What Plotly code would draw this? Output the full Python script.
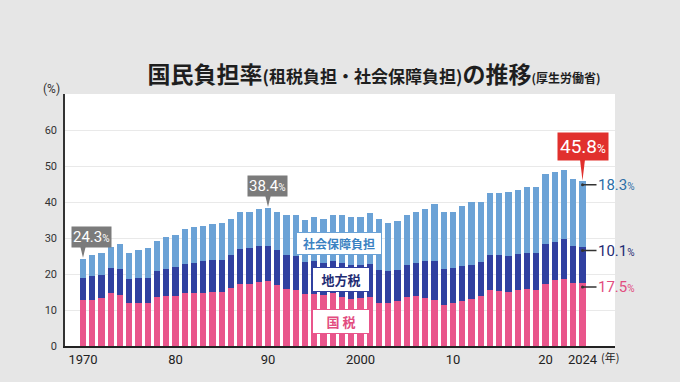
import plotly.graph_objects as go

years = list(range(1970, 2025))
national_tax = [12.7, 12.8, 13.3, 14.7, 14.2, 11.9, 12.0, 11.9, 13.5, 13.9,
                13.9, 14.6, 14.6, 14.8, 15.0, 15.0, 16.0, 17.1, 17.2, 17.8,
                18.1, 16.9, 15.7, 15.5, 14.5, 14.5, 14.2, 14.6, 13.6, 13.0,
                13.4, 13.5, 11.9, 11.9, 12.5, 13.5, 13.9, 13.4, 12.7, 11.4,
                11.9, 12.5, 13.1, 13.8, 15.5, 15.3, 15.0, 15.6, 15.9, 15.5,
                17.3, 18.2, 18.6, 17.6, 17.5]
local_tax = [6.2, 6.6, 6.5, 7.0, 7.3, 6.6, 6.9, 7.1, 7.2, 7.5,
             8.0, 8.1, 8.5, 8.7, 8.9, 8.9, 9.2, 9.8, 10.0, 10.0,
             9.6, 9.7, 9.5, 9.5, 8.8, 9.2, 8.8, 9.0, 9.5, 9.4,
             9.2, 9.2, 9.2, 8.8, 8.6, 9.1, 9.2, 10.2, 10.8, 10.1,
             9.7, 9.7, 9.5, 9.4, 9.8, 10.1, 10.1, 10.0, 10.0, 10.2,
             11.0, 10.8, 11.1, 10.3, 10.1]
social_security = [5.4, 5.8, 5.9, 5.7, 6.9, 7.3, 7.8, 8.2, 8.6, 8.8,
                   8.8, 9.7, 9.9, 9.7, 10.0, 10.2, 10.2, 10.2, 9.9, 10.2,
                   10.7, 10.6, 11.1, 11.3, 11.7, 12.1, 12.4, 12.7, 13.2, 13.3,
                   13.1, 14.2, 14.1, 13.6, 13.5, 13.8, 14.0, 14.5, 16.0, 15.8,
                   15.7, 16.7, 17.5, 16.9, 17.3, 17.2, 17.7, 17.7, 18.4, 18.6,
                   19.6, 19.3, 19.2, 18.5, 18.3]

series_names = ["国税", "地方税", "社会保障負担"]
series_labels = ["国 税", "地方税", "社会保障負担"]
tick_years = [1970, 1980, 1990, 2000, 2010, 2020, 2024]
tick_labels = ["1970", "80", "90", "2000", "10", "20", "2024"]
y_ticks = [0, 10, 20, 30, 40, 50, 60]
callout_years = [1970, 1990, 2024]
callout_texts = ["24.3", "38.4", "45.8"]
end_labels = ["17.5", "10.1", "18.3"]

PINK = "#e9558b"
NAVY = "#3040a0"
LIGHT = "#6ba2d6"
colors = [PINK, NAVY, LIGHT]
text_colors = ["#e24d80", "#1f2c73", "#2d6ea6"]

totals = [a + b + c for a, b, c in zip(national_tax, local_tax, social_security)]

fig = go.Figure()
for name, vals, col in zip(series_names, [national_tax, local_tax, social_security], colors):
    fig.add_trace(go.Bar(x=years, y=vals, name=name, marker=dict(color=col, line=dict(width=0)),
                         width=0.68, showlegend=False, hoverinfo="skip"))

ann = []
NUMF = "Roboto"
box_cfg = [  # xshift, yshift, bg, fontsize, stem height (data units), half width
    (8.5, 22, "#7b7b7b", 15, 3.6, 0.32),
    (-1, 22, "#7b7b7b", 15, 3.6, 0.32),
    (0, 35, "#e1302d", 19, 6.6, 0.3),
]
for yr, txt, cfg in zip(callout_years, callout_texts, box_cfg):
    xs, ys, bg, fs, stem, hw = cfg
    tot = totals[years.index(yr)]
    if yr == 2024:
        tot = float(txt)
    ann.append(dict(x=yr, y=tot, xref="x", yref="y", showarrow=False,
                    text=f"{txt}<span style='font-size:{int(fs*0.68)}px'>%</span>",
                    font=dict(family=NUMF, size=fs, color="white"),
                    bgcolor=bg, borderpad=1 if fs < 18 else 2, xshift=xs, yshift=ys,
                    yanchor="middle"))
    fig.add_trace(go.Scatter(x=[yr - hw, yr + hw, yr, yr - hw],
                             y=[tot + stem, tot + stem, tot + 0.2, tot + stem],
                             fill="toself", fillcolor=bg, mode="lines",
                             line=dict(width=0, color=bg), showlegend=False, hoverinfo="skip"))

cums = [national_tax[-1], national_tax[-1] + local_tax[-1],
        national_tax[-1] + local_tax[-1] + social_security[-1]]
for txt, cum, tc in zip(end_labels, cums, text_colors):
    ann.append(dict(x=years[-1], y=cum - 1.1, xref="x", yref="y", showarrow=True,
                    arrowhead=6, arrowsize=0.5, arrowwidth=1.5, arrowcolor="#333",
                    ax=14, ay=0, xanchor="left", standoff=0, borderpad=0,
                    text=f"{txt}<span style='font-size:10px'>%</span>",
                    font=dict(family=NUMF, size=15, color=tc)))

label_pos = [(1997.84, 6.8, 52), (1997.84, 18.6, 52), (1997.68, 28.6, 80)]
for lab, (lx, ly, w), tc, bc in zip(series_labels, label_pos, text_colors, colors):
    ann.append(dict(x=lx, y=ly, xref="x", yref="y", showarrow=False,
                    text=f"<b>{lab}</b>", width=w,
                    font=dict(family="Noto Sans CJK JP", size=13 if lab != "社会保障負担" else 12,
                              color=tc if lab != "社会保障負担" else "#3b82c2"),
                    bgcolor="white", bordercolor=bc, borderwidth=1, borderpad=2))

ann.append(dict(x=-0.025, y=1.02, xref="paper", yref="paper", showarrow=False,
                xanchor="center", yanchor="middle",
                text="(%)", font=dict(family="Roboto", size=12, color="#333")))
ann.append(dict(x=0.99, y=-0.044, xref="paper", yref="paper", showarrow=False,
                xanchor="center", yanchor="middle",
                text="(年)", font=dict(family="Noto Sans CJK JP", size=11, color="#222")))

title_text = ("<b>国民負担率<span style='font-size:17px'>(租税負担・社会保障負担)</span>"
              "の推移<span style='font-size:12px'>(厚生労働省)</span></b>")

fig.update_layout(
    width=680, height=382,
    barmode="stack",
    paper_bgcolor="#e6e6e6",
    plot_bgcolor="white",
    margin=dict(l=65, r=65, t=94, b=36),
    title=dict(text=title_text, x=0.55, y=0.805, xref="container", yref="container",
               xanchor="center", yanchor="middle",
               font=dict(family="Noto Sans CJK JP", size=23, color="#1e1e1e")),
    xaxis=dict(range=[1968.054, 2027.514], tickvals=tick_years, ticktext=tick_labels,
               showgrid=False, showline=True, linecolor="#222", linewidth=2,
               ticks="", tickfont=dict(family=NUMF, size=13, color="#222"), zeroline=False,
               fixedrange=True),
    yaxis=dict(range=[0, 70], tickvals=y_ticks, showgrid=True, gridcolor="#e9e9e9",
               gridwidth=1, showline=True, linecolor="#333", linewidth=1.5, ticks="",
               tickfont=dict(family=NUMF, size=11, color="#333"), zeroline=False,
               ticklabelstandoff=4),
    annotations=ann,
    bargap=0,
)

fig.write_html("out.html", config={"displayModeBar": False},
               post_script="document.body.style.margin='0';")
